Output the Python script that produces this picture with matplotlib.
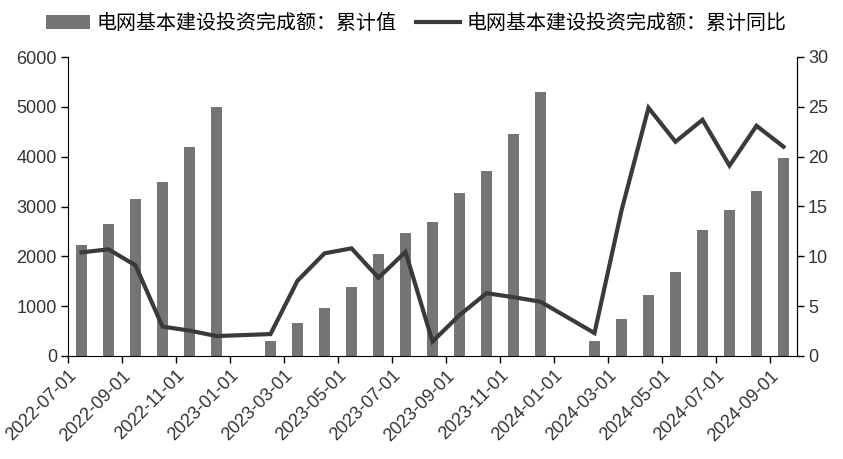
import numpy as np
import matplotlib
matplotlib.use('Agg')
import matplotlib.pyplot as plt
import matplotlib.transforms as mtransforms

plt.rcParams['font.family'] = ['Liberation Sans', 'Noto Sans CJK SC', 'DejaVu Sans']

# months from 2022-07 (index 0) to 2024-09 (index 26); January values are not published
months = ['2022-07', '2022-08', '2022-09', '2022-10', '2022-11', '2022-12',
          '2023-01', '2023-02', '2023-03', '2023-04', '2023-05', '2023-06',
          '2023-07', '2023-08', '2023-09', '2023-10', '2023-11', '2023-12',
          '2024-01', '2024-02', '2024-03', '2024-04', '2024-05', '2024-06',
          '2024-07', '2024-08', '2024-09']

cum_value = [2230, 2652, 3154, 3496, 4199, 5003,
             np.nan, 301, 663, 964, 1386, 2049,
             2478, 2692, 3275, 3717, 4460, 5290,
             np.nan, 301, 750, 1225, 1694, 2531,
             2933, 3315, 3978]

cum_yoy = [10.4, 10.7, 9.1, 2.95, 2.55, 2.0,
           np.nan, 2.2, 7.55, 10.3, 10.8, 7.85,
           10.45, 1.45, 4.1, 6.3, 5.9, 5.45,
           np.nan, 2.3, 14.6, 24.9, 21.5, 23.7,
           19.1, 23.1, 21.0]

tick_labels = [m + '-01' for m in months[::2]]

bar_label = '电网基本建设投资完成额：累计值'
line_label = '电网基本建设投资完成额：累计同比'

bar_color = '#757575'
line_color = '#3a3a3a'

fig = plt.figure(figsize=(8.43, 4.59), dpi=100)
ax = fig.add_axes([68 / 843, 1 - 356 / 459, (797 - 68) / 843, (356 - 57) / 459])
ax2 = ax.twinx()

x = np.arange(len(months)) + 0.5
vals = np.array(cum_value, dtype=float)
yoy = np.array(cum_yoy, dtype=float)

ok = ~np.isnan(vals)
bars = ax.bar(x[ok], vals[ok], width=0.38, color=bar_color, label=bar_label, zorder=2)

ok2 = ~np.isnan(yoy)
line, = ax2.plot(x[ok2], yoy[ok2], color=line_color, lw=3.0, label=line_label,
                 solid_joinstyle='miter', zorder=3)

ax.set_xlim(0, len(months))
ax.set_ylim(0, 6000)
ax.set_yticks(range(0, 6001, 1000))
ax2.set_ylim(0, 30)
ax2.set_yticks(range(0, 31, 5))

ax.set_xticks(np.arange(0, len(months), 2))
ax.set_xticklabels(tick_labels, rotation=45, ha='right', va='top',
                   rotation_mode='anchor')
shift = mtransforms.ScaledTranslation(4 / 100, 0, fig.dpi_scale_trans)
for lab in ax.get_xticklabels():
    lab.set_transform(lab.get_transform() + shift)

for a in (ax, ax2):
    a.spines['top'].set_visible(False)
    a.tick_params(direction='out', length=5, width=1, labelsize=13,
                  colors='black', labelcolor='#333333')
ax.tick_params(axis='x', pad=3)
ax.tick_params(axis='y', pad=3)
ax2.tick_params(axis='y', pad=3)
ax2.spines['left'].set_visible(False)
ax2.spines['bottom'].set_visible(False)

fig.legend([bars, line], [bar_label, line_label], loc='upper center',
           bbox_to_anchor=(0.494, 1.01), ncol=2, frameon=False,
           prop={'family': ['Noto Sans CJK SC'], 'size': 14.4},
           handlelength=2.2, handletextpad=0.3, columnspacing=1.0)

fig.savefig('out.png', dpi=100)
